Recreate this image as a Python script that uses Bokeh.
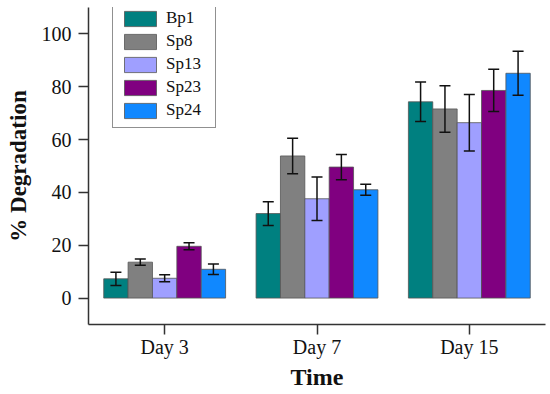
from bokeh.plotting import figure
from bokeh.models import FactorRange, ColumnDataSource, Whisker, Legend, LegendItem, FixedTicker
from bokeh.transform import dodge
from bokeh.embed import file_html
from bokeh.resources import INLINE

days = ["Day 3", "Day 7", "Day 15"]
series = ["Bp1", "Sp8", "Sp13", "Sp23", "Sp24"]
colors = ["#008080", "#808080", "#9F9FFF", "#800080", "#1088FF"]
bp1 = [7.3, 32.0, 74.3]
sp8 = [13.6, 53.8, 71.6]
sp13 = [7.5, 37.6, 66.4]
sp23 = [19.6, 49.6, 78.6]
sp24 = [10.9, 41.0, 85.1]
bp1_err = [2.5, 4.5, 7.5]
sp8_err = [1.2, 6.7, 8.8]
sp13_err = [1.3, 8.2, 10.7]
sp23_err = [1.3, 4.8, 8.0]
sp24_err = [2.0, 2.1, 8.3]
yticks = [0, 20, 40, 60, 80, 100]

vals = [bp1, sp8, sp13, sp23, sp24]
errs = [bp1_err, sp8_err, sp13_err, sp23_err, sp24_err]

FONT = "Liberation Serif"
p = figure(x_range=FactorRange(factors=days, range_padding=0), y_range=(-10, 110),
           width=548, height=392, output_backend="svg", toolbar_location=None,
           min_border_left=88, min_border_right=3, min_border_top=7, min_border_bottom=66)
p.outline_line_color = None
p.grid.grid_line_color = None
p.background_fill_color = "white"
p.border_fill_color = "white"

width = 0.16
offsets = [-0.32, -0.16, 0.0, 0.16, 0.32]
items = []
for name, col, v, e, off in zip(series, colors, vals, errs, offsets):
    src = ColumnDataSource(dict(day=days, val=v,
                                upper=[a + b for a, b in zip(v, e)],
                                lower=[a - b for a, b in zip(v, e)]))
    r = p.vbar(x=dodge("day", off, range=p.x_range), top="val", bottom=0, width=width,
               source=src, fill_color=col, line_color="#555555", line_width=0.8)
    w = Whisker(base=dodge("day", off, range=p.x_range), upper="upper", lower="lower",
                source=src, line_color="#111111", line_width=1.5, level="overlay")
    for h in (w.upper_head, w.lower_head):
        h.size = 11
        h.line_width = 1.5
        h.line_color = "#111111"
    p.add_layout(w)
    items.append(LegendItem(label=name, renderers=[r]))

legend = Legend(items=items, location=(24, 196), glyph_width=40, glyph_height=19,
                spacing=3, padding=7, margin=0, label_standoff=6, label_width=42,
                label_text_font=FONT, label_text_font_size="17px", label_text_color="#111111",
                label_height=19, border_line_color="#222222", border_line_width=1.5,
                background_fill_alpha=1.0)
p.add_layout(legend, "center")

for ax in (p.xaxis, p.yaxis):
    ax.axis_line_width = 1.5
    ax.axis_line_color = "#333333"
    ax.major_tick_line_color = "#333333"
    ax.major_tick_line_width = 1.5
    ax.minor_tick_line_color = None
    ax.major_tick_in = 0
    ax.major_tick_out = 10
    ax.major_label_text_font = FONT
    ax.major_label_text_font_size = "20px"
    ax.major_label_text_color = "#111111"
    ax.axis_label_text_font = FONT
    ax.axis_label_text_font_style = "bold"
    ax.axis_label_text_color = "#111111"

p.xaxis.axis_label_text_font_size = "24px"
p.yaxis.axis_label_text_font_size = "23px"
p.yaxis.ticker = FixedTicker(ticks=yticks)
p.yaxis.major_label_standoff = 7
p.xaxis.major_label_standoff = 1
p.yaxis.axis_label = "% Degradation"
p.xaxis.axis_label = "Time"
p.yaxis.axis_label_standoff = 8
p.xaxis.axis_label_standoff = 3

open("out.html", "w").write(file_html(p, INLINE))
